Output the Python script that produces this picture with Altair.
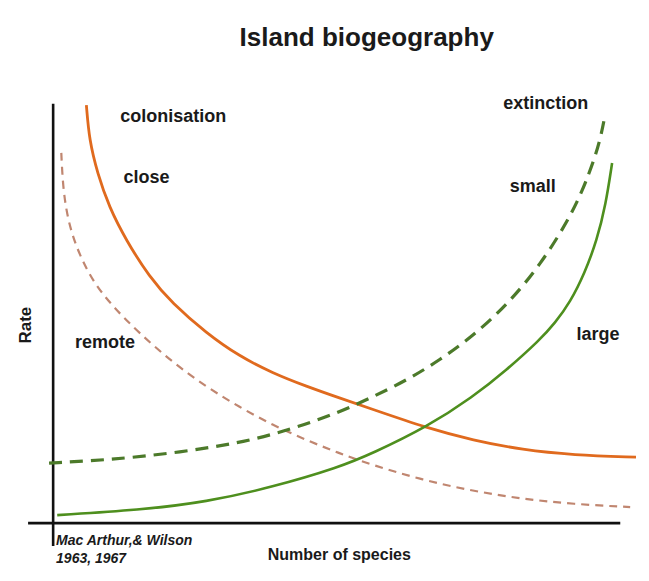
import altair as alt
import pandas as pd

# ---- data (abstract units: species 0-100, rate 0-100) ----
close_x = [5.7, 6.2, 7.6, 9.6, 12.5, 16.5, 20.4, 26.3, 32.0, 37.6, 43.5, 49.1, 54.8, 64.1, 72.0, 80.6, 89.2, 100]
close_y = [98.8, 90.5, 82.7, 74.7, 66.9, 58.2, 52.0, 44.9, 39.4, 35.5, 32.3, 29.6, 26.9, 22.5, 19.6, 17.3, 16.1, 15.6]

remote_x = [1.4, 1.7, 2.7, 4.5, 7.0, 10.5, 14.8, 20.4, 26.3, 32.0, 37.6, 43.5, 49.1, 54.8, 63.4, 72.0, 80.6, 89.2, 99.0]
remote_y = [87.5, 78.7, 70.4, 63.4, 56.7, 50.8, 44.9, 38.1, 32.2, 27.4, 23.2, 19.6, 16.5, 13.7, 10.2, 7.6, 5.7, 4.5, 3.8]

small_x = [-0.7, 9.1, 20.4, 32.0, 40.5, 49.1, 54.8, 60.7, 66.3, 72.0, 77.8, 83.5, 89.2, 92.1, 93.8, 94.7]
small_y = [14.2, 14.9, 16.5, 18.9, 22.0, 26.2, 29.8, 33.8, 38.5, 44.2, 51.5, 60.8, 73.3, 83.0, 90.1, 96.5]

large_x = [0.7, 14.8, 26.3, 37.6, 49.1, 54.8, 64.1, 72.0, 77.8, 83.5, 86.1, 88.7, 91.2, 93.3, 94.8, 95.9]
large_y = [1.9, 3.1, 5.0, 8.5, 13.2, 16.5, 22.7, 29.8, 36.2, 43.3, 47.3, 52.2, 59.1, 66.9, 75.2, 85.1]

# axis lines: vertical (rate) and horizontal (species)
axis_x = [0, -4.3]
axis_x2 = [0, 97.3]
axis_y = [99.1, 0]
axis_y2 = [-5.4, 0]

label_text = ["colonisation", "close", "remote", "extinction", "small", "large"]
label_x = [20.6, 16.0, 8.9, 84.5, 82.3, 93.5]
label_y = [96.0, 81.6, 42.6, 99.1, 79.4, 44.4]

W, H = 612, 457
xs = alt.Scale(domain=[-5, 100], nice=False, zero=False)
ys = alt.Scale(domain=[-8, 100], nice=False, zero=False)
FONT = "Liberation Sans"


def curve(xv, yv, color, width, dash=None):
    df = pd.DataFrame({"x": xv, "y": yv, "i": list(range(len(xv)))})
    kw = dict(color=color, strokeWidth=width, interpolate="basis", clip=True)
    if dash:
        kw["strokeDash"] = dash
    return alt.Chart(df).mark_line(**kw).encode(
        x=alt.X("x:Q", scale=xs, axis=None),
        y=alt.Y("y:Q", scale=ys, axis=None),
        order="i:Q",
    )


axes_df = pd.DataFrame({"x": axis_x, "x2": axis_x2, "y": axis_y, "y2": axis_y2})
axes = alt.Chart(axes_df).mark_rule(color="#111111", strokeWidth=2.6).encode(
    x=alt.X("x:Q", scale=xs, axis=None), x2="x2:Q",
    y=alt.Y("y:Q", scale=ys, axis=None), y2="y2:Q",
)

lab_df = pd.DataFrame({"t": label_text, "x": label_x, "y": label_y})
labels = alt.Chart(lab_df).mark_text(
    font=FONT, fontWeight="bold", fontSize=18, color="#1a1a1a", align="center", baseline="middle"
).encode(x=alt.X("x:Q", scale=xs, axis=None), y=alt.Y("y:Q", scale=ys, axis=None), text="t:N")


def single(text, x, y, **kw):
    df = pd.DataFrame({"t": [text], "x": [x], "y": [y]})
    base = dict(font=FONT, fontWeight="bold", color="#1a1a1a", baseline="middle")
    base.update(kw)
    return alt.Chart(df).mark_text(**base).encode(
        x=alt.X("x:Q", scale=xs, axis=None), y=alt.Y("y:Q", scale=ys, axis=None), text="t:N"
    )


title = single("Island biogeography", 53.8, 114.7, fontSize=26, align="center")
xtitle = single("Number of species", 49.1, -7.6, fontSize=16, align="center")
ytitle = single("Rate", -4.6, 46.8, fontSize=17, align="center", angle=270)
cite1 = single("Mac Arthur,& Wilson", 0.5, -4.3, fontSize=14, align="left", fontStyle="italic")
cite2 = single("1963, 1967", 0.5, -8.5, fontSize=14, align="left", fontStyle="italic")

chart = alt.layer(
    axes,
    curve(remote_x, remote_y, "#C08670", 2.2, [8, 6]),
    curve(close_x, close_y, "#E06A1E", 2.8),
    curve(small_x, small_y, "#4C7A2A", 3.2, [13, 8]),
    curve(large_x, large_y, "#4E8F1E", 2.6),
    labels, title, xtitle, ytitle, cite1, cite2,
).properties(
    width=W, height=H, autosize="none",
    padding={"left": 16, "top": 92, "right": 0, "bottom": 10},
    background="white",
).configure_view(stroke=None)

chart.save("out.html", embed_options={"renderer": "svg", "actions": False})
